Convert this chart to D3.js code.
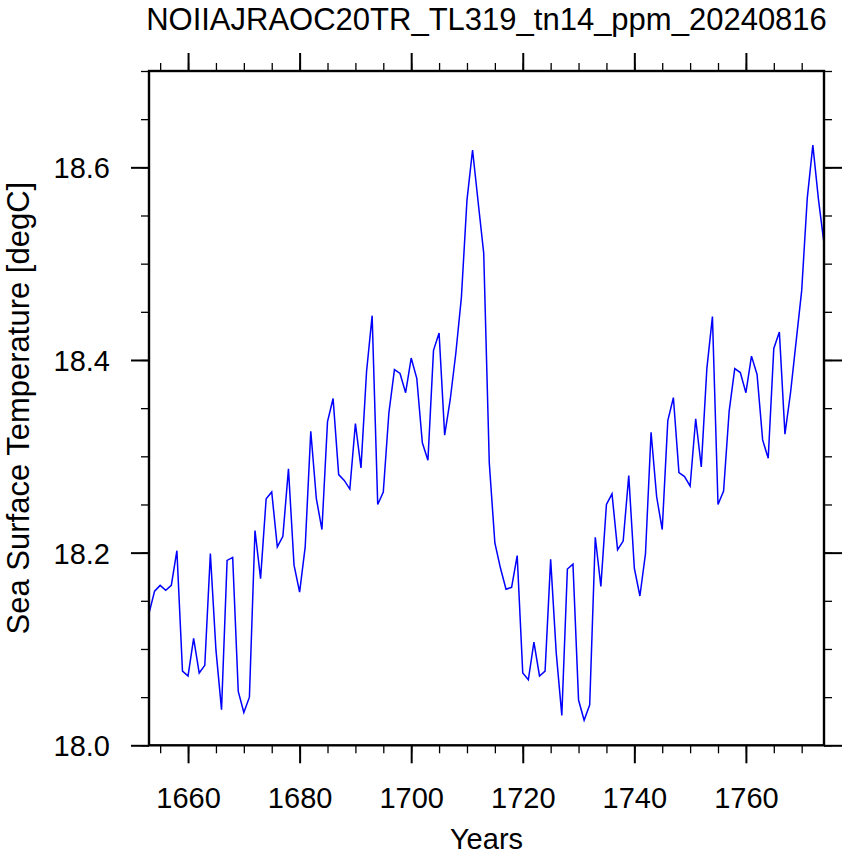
<!DOCTYPE html>
<html lang="en-US">
<head>
    <meta charset="utf-8">
    <script src="https://d3js.org/d3.v7.min.js"></script>
</head>
<body style="margin:0; background:#fff;">
<style>
    svg text {
        font-family: "Liberation Sans", Arial, Helvetica, sans-serif;
        fill: #000;
    }
    .axis .domain { display: none; }
    .axis line { stroke: #000; }
</style>

<svg width="847" height="859"></svg>

<script>
// yearly global mean SST, 1653-1774
var years = d3.range(1653, 1775);
var sst = [
    18.137, 18.160, 18.166, 18.161, 18.166, 18.202, 18.077, 18.072, 18.111, 18.075,
    18.083, 18.199, 18.099, 18.037, 18.192, 18.195, 18.056, 18.034, 18.050, 18.223,
    18.173, 18.256, 18.263, 18.206, 18.217, 18.287, 18.187, 18.159, 18.206, 18.326,
    18.256, 18.224, 18.336, 18.360, 18.281, 18.275, 18.266, 18.334, 18.288, 18.388,
    18.446, 18.250, 18.263, 18.345, 18.390, 18.386, 18.366, 18.402, 18.381, 18.314,
    18.296, 18.410, 18.428, 18.322, 18.359, 18.407, 18.465, 18.566, 18.618, 18.564,
    18.511, 18.293, 18.210, 18.184, 18.162, 18.164, 18.197, 18.075, 18.068, 18.107,
    18.072, 18.077, 18.193, 18.096, 18.031, 18.183, 18.188, 18.047, 18.026, 18.042,
    18.216, 18.165, 18.250, 18.261, 18.203, 18.212, 18.280, 18.184, 18.155, 18.199,
    18.325, 18.258, 18.224, 18.337, 18.361, 18.283, 18.279, 18.269, 18.339, 18.289,
    18.391, 18.445, 18.250, 18.264, 18.347, 18.391, 18.387, 18.366, 18.404, 18.385,
    18.317, 18.298, 18.412, 18.429, 18.323, 18.366, 18.419, 18.472, 18.568, 18.623,
    18.567, 18.521
];

var xMajor = [1660, 1680, 1700, 1720, 1740, 1760];
var xMinor = d3.range(1655, 1775, 5);
var yMajor = [18.0, 18.2, 18.4, 18.6];
var yMinor = d3.range(18.0, 18.701, 0.05);

var title = "NOIIAJRAOC20TR_TL319_tn14_ppm_20240816";
var xTitle = "Years";
var yTitle = "Sea Surface Temperature [degC]";

var svg = d3.select("svg");
var plotL = 149, plotR = 824, plotT = 71, plotB = 745.3;

var x = d3.scaleLinear().domain([1653, 1774]).range([plotL, plotR]);
var y = d3.scaleLinear().domain([18.0, 18.7]).range([plotB, plotT]);

// ticks: minor first, then major with labels (all pointing outward)
function addAxis(axisFn, scale, values, size, fmt, transform, width) {
    var g = svg.append("g")
        .attr("class", "axis")
        .attr("transform", transform)
        .call(axisFn(scale).tickValues(values).tickSize(size).tickPadding(6)
            .tickFormat(fmt || (() => "")));
    g.selectAll("line").attr("stroke-width", width);
    return g;
}

addAxis(d3.axisBottom, x, xMinor, 8, null, `translate(0,${plotB})`, 1.3);
addAxis(d3.axisTop, x, xMinor, 8, null, `translate(0,${plotT})`, 1.3);
addAxis(d3.axisLeft, y, yMinor, 8, null, `translate(${plotL},0)`, 1.3);
addAxis(d3.axisRight, y, yMinor, 8, null, `translate(${plotR},0)`, 1.3);

var xb = addAxis(d3.axisBottom, x, xMajor, 18, d3.format("d"), `translate(0,${plotB})`, 2);
addAxis(d3.axisTop, x, xMajor, 18, null, `translate(0,${plotT})`, 2);
var yl = addAxis(d3.axisLeft, y, yMajor, 18, d3.format(".1f"), `translate(${plotL},0)`, 2);
addAxis(d3.axisRight, y, yMajor, 18, null, `translate(${plotR},0)`, 2);

xb.selectAll("text")
    .attr("font-size", 29)
    .attr("dy", null)
    .attr("y", 63);
yl.selectAll("text")
    .attr("font-size", 29)
    .attr("x", -39)
    .attr("dy", "0.36em");

// the series
var line = d3.line()
    .x((d, i) => x(years[i]))
    .y(d => y(d));

svg.append("path")
    .datum(sst)
    .attr("d", line)
    .attr("fill", "none")
    .attr("stroke", "#0000ff")
    .attr("stroke-width", 1.5)
    .attr("stroke-linejoin", "miter");

// frame
svg.append("rect")
    .attr("x", plotL)
    .attr("y", plotT)
    .attr("width", plotR - plotL)
    .attr("height", plotB - plotT)
    .attr("fill", "none")
    .attr("stroke", "#000")
    .attr("stroke-width", 2.4);

// titles
svg.append("text")
    .attr("x", (plotL + plotR) / 2)
    .attr("y", 30)
    .attr("text-anchor", "middle")
    .attr("font-size", 31)
    .text(title);

svg.append("text")
    .attr("x", (plotL + plotR) / 2)
    .attr("y", 849)
    .attr("text-anchor", "middle")
    .attr("font-size", 29)
    .text(xTitle);

svg.append("text")
    .attr("transform", `translate(29,${(plotT + plotB) / 2}) rotate(-90)`)
    .attr("text-anchor", "middle")
    .attr("font-size", 31)
    .text(yTitle);
</script>
</body>
</html>
